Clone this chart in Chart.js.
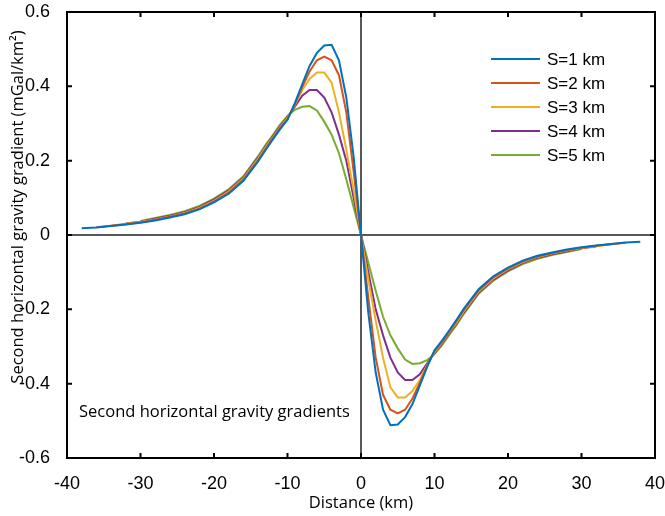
<!DOCTYPE html>
<html>
<head>
<meta charset="utf-8">
<script src="https://cdn.jsdelivr.net/npm/chart.js@4.4.1/dist/chart.umd.min.js"></script>
<style>
  html, body { margin: 0; padding: 0; background: #fff; }
  #wrap { width: 665px; height: 516px; }
</style>
</head>
<body>
<div id="wrap"><canvas id="chart" width="665" height="516"></canvas></div>
<script>
// distance along profile (km)
const distance = [-38, -36, -34, -32, -30, -28, -26, -24, -22, -20, -18, -16, -14, -13, -12, -11, -10, -9, -8, -7, -6, -5, -4, -3, -2, -1, 0,
  1, 2, 3, 4, 5, 6, 7, 8, 9, 10, 11, 12, 13, 14, 16, 18, 20, 22, 24, 26, 28, 30, 32, 34, 36, 38];

// second horizontal gravity gradient (mGal/km^2), null = not sampled
const s1km = [0.018, 0.020, 0.024, 0.028, 0.033, 0.039, 0.047, 0.056, 0.069, 0.088, 0.111, 0.146, 0.198, 0.228, 0.257, 0.285, 0.31, 0.355, 0.405, 0.455, 0.49, 0.51, 0.512, 0.47, 0.37, 0.21, 0,
  -0.21, -0.37, -0.47, -0.512, -0.51, -0.49, -0.455, -0.405, -0.355, -0.31, -0.285, -0.257, -0.228, -0.198, -0.146, -0.111, -0.088, -0.069, -0.056, -0.047, -0.039, -0.033, -0.028, -0.024, -0.020, -0.018];
const s2km = [null, 0.021, 0.025, 0.029, 0.034, 0.041, 0.049, 0.058, 0.071, 0.090, 0.114, 0.149, 0.201, 0.231, 0.26, 0.288, 0.312, 0.352, 0.398, 0.44, 0.47, 0.48, 0.47, 0.43, 0.33, 0.17, 0,
  -0.17, -0.33, -0.43, -0.47, -0.48, -0.47, -0.44, -0.398, -0.352, -0.312, -0.288, -0.26, -0.231, -0.201, -0.149, -0.114, -0.090, -0.071, -0.058, -0.049, -0.041, -0.034, -0.029, -0.025, -0.021, null];
const s3km = [null, null, 0.025, 0.030, 0.035, 0.042, 0.050, 0.059, 0.073, 0.092, 0.117, 0.152, 0.205, 0.235, 0.262, 0.29, 0.315, 0.35, 0.39, 0.42, 0.437, 0.437, 0.41, 0.33, 0.23, 0.12, 0,
  -0.12, -0.23, -0.33, -0.41, -0.437, -0.437, -0.42, -0.39, -0.35, -0.315, -0.29, -0.262, -0.235, -0.205, -0.152, -0.117, -0.092, -0.073, -0.059, -0.050, -0.042, -0.035, -0.030, -0.025, null, null];
const s4km = [null, null, null, 0.031, 0.036, 0.044, 0.052, 0.061, 0.075, 0.095, 0.120, 0.155, 0.208, 0.238, 0.265, 0.293, 0.318, 0.345, 0.375, 0.39, 0.39, 0.37, 0.33, 0.27, 0.2, 0.1, 0,
  -0.1, -0.2, -0.27, -0.33, -0.37, -0.39, -0.39, -0.375, -0.345, -0.318, -0.293, -0.265, -0.238, -0.208, -0.155, -0.120, -0.095, -0.075, -0.061, -0.052, -0.044, -0.036, -0.031, null, null, null];
const s5km = [null, null, null, null, 0.038, 0.046, 0.054, 0.064, 0.078, 0.098, 0.123, 0.158, 0.212, 0.242, 0.269, 0.297, 0.32, 0.337, 0.345, 0.347, 0.335, 0.305, 0.27, 0.22, 0.15, 0.075, 0,
  -0.075, -0.15, -0.22, -0.27, -0.305, -0.335, -0.347, -0.345, -0.337, -0.32, -0.297, -0.269, -0.242, -0.212, -0.158, -0.123, -0.098, -0.078, -0.064, -0.054, -0.046, -0.038, null, null, null, null];

const seriesNames = ['S=1 km', 'S=2 km', 'S=3 km', 'S=4 km', 'S=5 km'];
const seriesColors = ['#0072BD', '#D95319', '#EDB120', '#7E2F8E', '#77AC30'];
const allSeries = [s1km, s2km, s3km, s4km, s5km];

const xTickValues = [-40, -30, -20, -10, 0, 10, 20, 30, 40];
const yTickValues = [-0.6, -0.4, -0.2, 0, 0.2, 0.4, 0.6];

const tickFont = 'Liberation Sans';
const textFont = 'Open Sans';

// box, inward ticks, zero lines, legend and the text bits
const frame = {
  id: 'frame',
  beforeDatasetsDraw(chart) {
    const { ctx, chartArea: a, scales: { x, y } } = chart;
    const x0 = x.getPixelForValue(0), y0 = y.getPixelForValue(0);
    ctx.save();
    ctx.strokeStyle = '#222';
    ctx.lineWidth = 1.5;
    ctx.beginPath();
    ctx.moveTo(a.left, y0); ctx.lineTo(a.right, y0);
    ctx.moveTo(x0, a.top); ctx.lineTo(x0, a.bottom);
    ctx.stroke();
    ctx.restore();
  },
  afterDatasetsDraw(chart) {
    const { ctx, chartArea: a, scales: { x, y } } = chart;
    ctx.save();
    ctx.strokeStyle = '#000';
    ctx.lineWidth = 2;
    ctx.strokeRect(a.left, a.top, a.right - a.left, a.bottom - a.top);
    const tl = 5;
    ctx.beginPath();
    xTickValues.forEach(v => {
      const px = x.getPixelForValue(v);
      ctx.moveTo(px, a.bottom); ctx.lineTo(px, a.bottom - tl);
      ctx.moveTo(px, a.top); ctx.lineTo(px, a.top + tl);
    });
    yTickValues.forEach(v => {
      const py = y.getPixelForValue(v);
      ctx.moveTo(a.left, py); ctx.lineTo(a.left + tl, py);
      ctx.moveTo(a.right, py); ctx.lineTo(a.right - tl, py);
    });
    ctx.stroke();

    // legend
    ctx.lineWidth = 2;
    ctx.font = '17px "' + tickFont + '"';
    ctx.textBaseline = 'middle';
    ctx.fillStyle = '#000';
    seriesNames.forEach((name, i) => {
      const ry = 59 + i * 24;
      ctx.strokeStyle = seriesColors[i];
      ctx.beginPath();
      ctx.moveTo(491, ry); ctx.lineTo(540, ry);
      ctx.stroke();
      ctx.fillText(name, 547, ry + 1);
    });

    // note
    ctx.font = '16.5px "' + textFont + '"';
    ctx.fillText('Second horizontal gravity gradients', 79, 412);

    // axis titles
    ctx.textAlign = 'center';
    ctx.fillText('Distance (km)', (a.left + a.right) / 2, 503);
    ctx.translate(18, 207);
    ctx.rotate(-Math.PI / 2);
    ctx.fillText('Second horizontal gravity gradient (mGal/km²)', 0, 0);
    ctx.restore();
  }
};

new Chart(document.getElementById('chart'), {
  type: 'line',
  data: {
    datasets: allSeries.map((vals, i) => ({
      label: seriesNames[i],
      data: distance.map((d, j) => ({ x: d, y: vals[j] })).filter(p => p.y !== null),
      borderColor: seriesColors[i],
      borderWidth: 2,
      pointRadius: 0,
      tension: 0,
      fill: false
    }))
  },
  options: {
    responsive: false,
    animation: false,
    layout: { padding: { top: 12, right: 10, left: 0, bottom: 0 } },
    plugins: {
      legend: { display: false },
      tooltip: { enabled: false }
    },
    scales: {
      x: {
        type: 'linear',
        min: -40,
        max: 40,
        afterBuildTicks: s => { s.ticks = xTickValues.map(v => ({ value: v })); },
        ticks: { color: '#000', font: { family: tickFont, size: 18 }, padding: 7, maxRotation: 0, autoSkip: false },
        grid: { display: false },
        border: { display: false },
        afterFit: s => { s.height = 58; s.paddingLeft = 0; s.paddingRight = 0; }
      },
      y: {
        min: -0.6,
        max: 0.6,
        afterBuildTicks: s => { s.ticks = yTickValues.map(v => ({ value: v })); },
        ticks: {
          color: '#000',
          font: { family: tickFont, size: 18 },
          padding: 9,
          crossAlign: 'near',
          autoSkip: false,
          callback: v => String(Math.round(v * 10) / 10)
        },
        grid: { display: false },
        border: { display: false },
        afterFit: s => { s.width = 67; s.paddingTop = 0; s.paddingBottom = 0; }
      }
    }
  },
  plugins: [frame]
});
</script>
</body>
</html>
